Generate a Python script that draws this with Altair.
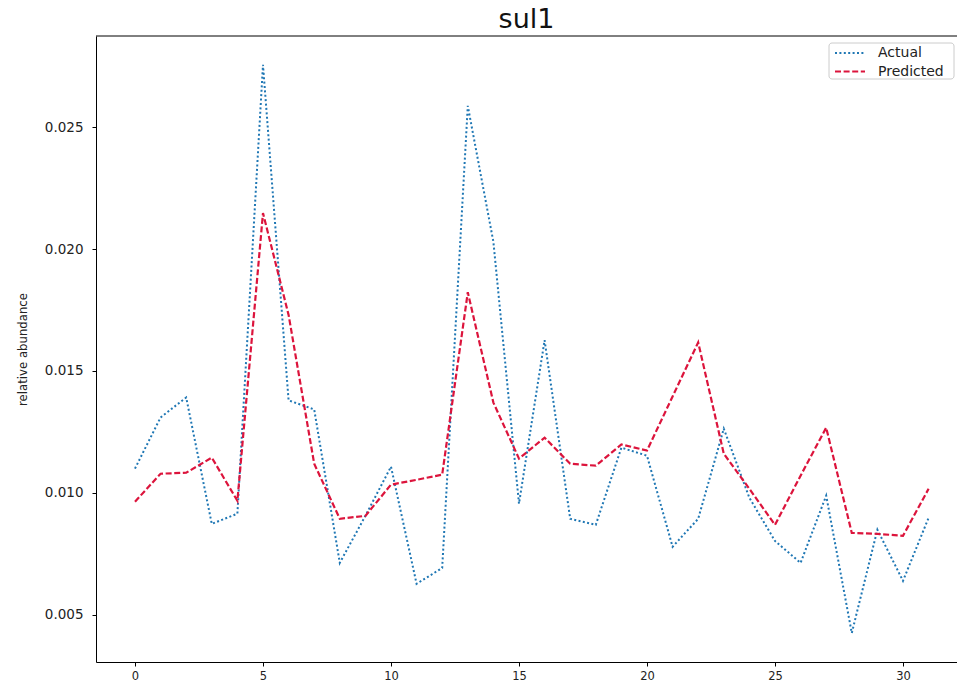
import altair as alt
import pandas as pd

# ---- data ----
steps = list(range(32))
actual = [0.01099, 0.01309, 0.01391, 0.00872, 0.00914, 0.02757, 0.01379, 0.01342,
          0.00712, 0.00905, 0.01107, 0.00626, 0.00691, 0.02588, 0.02030, 0.00955,
          0.01626, 0.00893, 0.00868, 0.01185, 0.01152, 0.00778, 0.00893, 0.01263,
          0.00979, 0.00802, 0.00712, 0.00988, 0.00424, 0.00848, 0.00638, 0.00897]
predicted = [0.00963, 0.01078, 0.01082, 0.01144, 0.00967, 0.02148, 0.01730, 0.01119,
             0.00893, 0.00905, 0.01033, 0.01053, 0.01074, 0.01823, 0.01370, 0.01140,
             0.01226, 0.01119, 0.01111, 0.01198, 0.01173, 0.01395, 0.01617, 0.01160,
             0.01016, 0.00868, 0.01070, 0.01267, 0.00835, 0.00831, 0.00823, 0.01016]
series_names = ["Actual", "Predicted"]
x_ticks = [0, 5, 10, 15, 20, 25, 30]
y_ticks = [0.005, 0.010, 0.015, 0.020, 0.025]
chart_title = "sul1"
y_title = "relative abundance"

BLUE = "#1f77b4"
RED = "#dc143c"
W, H = 861, 626

df = pd.DataFrame({"t": steps, "actual": actual, "predicted": predicted})

xs = alt.Scale(domain=[-1.523, 32.11], nice=False, zero=False)
ys = alt.Scale(domain=[0.00305, 0.02875], nice=False, zero=False)

x_axis = alt.Axis(values=x_ticks, title=None, grid=False, labelFontSize=11.5,
                  labelPadding=4, format="d")
y_axis = alt.Axis(values=y_ticks, format=".3f", title=y_title, grid=False,
                  labelFontSize=13.5, labelPadding=9,
                  titleFont="DejaVu Sans Condensed", titleFontSize=13,
                  titleFontWeight="normal", titleColor="#222",
                  titleAngle=270, titleX=-74, titleY=H / 2,
                  titleAlign="center", titleBaseline="middle")

base = alt.Chart(df)
line_actual = base.mark_line(color=BLUE, strokeWidth=2, strokeDash=[2, 2.4]).encode(
    x=alt.X("t:Q", scale=xs, axis=x_axis),
    y=alt.Y("actual:Q", scale=ys, axis=y_axis),
)
line_pred = base.mark_line(color=RED, strokeWidth=2.2, strokeDash=[6, 2.6]).encode(
    x=alt.X("t:Q", scale=xs),
    y=alt.Y("predicted:Q", scale=ys),
)

one = pd.DataFrame({"a": [0]})
top_spine = alt.Chart(one).mark_rule(color="#000", strokeWidth=1).encode(
    x=alt.value(0), x2=alt.value(W), y=alt.value(0))

legend_box = alt.Chart(one).mark_rect(fill="white", fillOpacity=0.8, stroke="#cccccc",
                                      strokeWidth=1, cornerRadius=3).encode(
    x=alt.value(733), x2=alt.value(858), y=alt.value(7), y2=alt.value(43))
leg_a = alt.Chart(one).mark_rule(color=BLUE, strokeWidth=2, strokeDash=[2, 2.4]).encode(
    x=alt.value(739), x2=alt.value(769), y=alt.value(17))
leg_p = alt.Chart(one).mark_rule(color=RED, strokeWidth=2.2, strokeDash=[6, 2.6]).encode(
    x=alt.value(739), x2=alt.value(769), y=alt.value(35.5))
txt_a = alt.Chart(one).mark_text(align="left", baseline="middle", fontSize=14,
                                 font="DejaVu Sans", color="#222").encode(
    x=alt.value(782), y=alt.value(17), text=alt.value(series_names[0]))
txt_p = alt.Chart(one).mark_text(align="left", baseline="middle", fontSize=14,
                                 font="DejaVu Sans", color="#222").encode(
    x=alt.value(782), y=alt.value(35.5), text=alt.value(series_names[1]))

chart = alt.layer(
    line_actual, line_pred, top_spine, legend_box, leg_a, leg_p, txt_a, txt_p
).properties(
    width=W, height=H,
    title=alt.TitleParams(chart_title, fontSize=27, font="DejaVu Sans",
                          fontWeight="normal", color="#111", offset=2, anchor="middle"),
    padding={"left": 96, "top": 36, "right": 0, "bottom": 22},
    autosize=alt.AutoSizeParams(type="none"),
).configure_view(stroke=None).configure_axis(
    domainColor="#000", domainWidth=1, tickColor="#000", tickWidth=1, tickSize=4,
    labelColor="#222", labelFont="DejaVu Sans",
)

chart.save("out.html", embed_options={"renderer": "svg", "actions": False})
